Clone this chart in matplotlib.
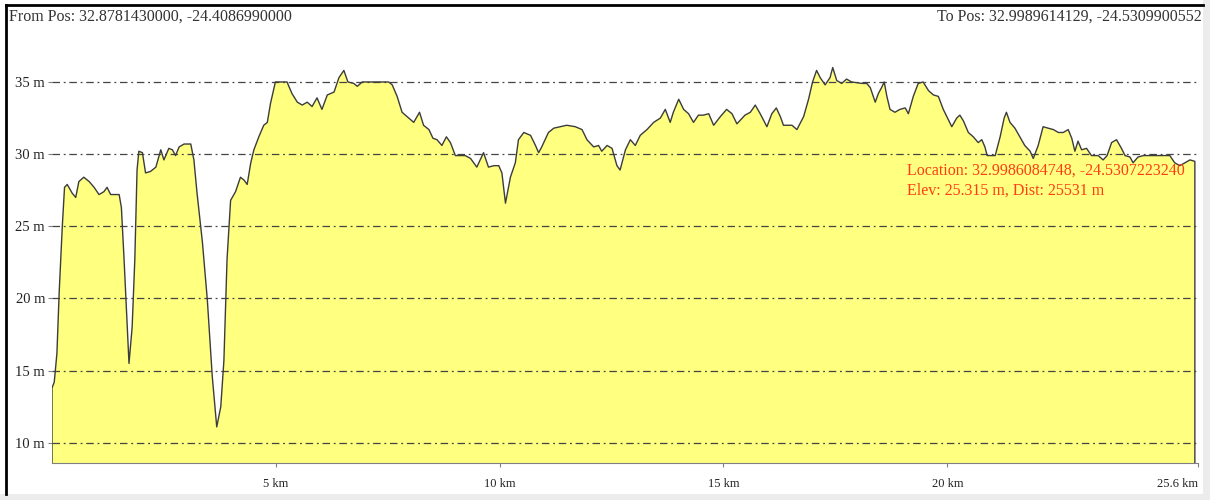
import matplotlib.pyplot as plt
from matplotlib.patches import Rectangle

# elevation profile along the path (distance in km, elevation in m)
dist_km = [
    0.00, 0.05, 0.11, 0.16, 0.23, 0.28, 0.34, 0.45, 0.53, 0.60, 0.71, 0.83, 0.94,
    1.05, 1.16, 1.23, 1.31, 1.50, 1.55, 1.61, 1.72, 1.79, 1.85, 1.90, 1.94, 2.02,
    2.09, 2.20, 2.32, 2.43, 2.50, 2.61, 2.69, 2.76, 2.84, 2.95, 3.10, 3.17, 3.24,
    3.36, 3.47, 3.58, 3.68, 3.77, 3.84, 3.91, 3.99, 4.10, 4.21, 4.29, 4.36, 4.44,
    4.51, 4.62, 4.73, 4.81, 4.88, 4.99,
    5.25, 5.36, 5.48, 5.59, 5.70, 5.81, 5.92, 6.03, 6.15, 6.30, 6.41, 6.52, 6.61,
    6.74, 6.82, 6.93, 7.52, 7.60, 7.71, 7.82, 7.93, 8.08, 8.21, 8.30, 8.42, 8.51,
    8.60, 8.71, 8.81, 8.90, 9.01, 9.23, 9.35, 9.49, 9.64, 9.75, 9.87, 9.98, 10.05,
    10.13,
    10.24, 10.35, 10.42, 10.54, 10.69, 10.80, 10.87, 10.94, 11.09, 11.21, 11.36,
    11.50, 11.69, 11.84, 11.95, 12.10, 12.21, 12.28, 12.40, 12.51, 12.62, 12.69,
    12.81, 12.92, 13.03, 13.14, 13.29, 13.44, 13.59, 13.70, 13.81, 13.88, 14.00,
    14.11, 14.22, 14.33, 14.44, 14.55, 14.67, 14.78, 14.93, 15.07, 15.19, 15.30,
    15.48, 15.60, 15.71, 15.82, 15.97, 16.08, 16.18, 16.27, 16.34, 16.53, 16.64,
    16.79, 16.90, 16.99, 17.08, 17.16, 17.27, 17.38, 17.44, 17.53, 17.64, 17.75,
    17.86, 18.09, 18.20, 18.28, 18.39, 18.46, 18.53, 18.59, 18.65, 18.72, 18.83,
    18.94, 19.06, 19.13, 19.24, 19.35, 19.46, 19.58, 19.69, 19.80, 19.91, 20.02,
    20.10, 20.21, 20.28, 20.36,
    20.47, 20.58, 20.69, 20.77, 20.84, 20.89, 21.07, 21.18, 21.27, 21.32, 21.40,
    21.51, 21.62, 21.73, 21.85, 21.92, 22.03, 22.14, 22.25, 22.37, 22.48, 22.59,
    22.70, 22.78, 22.85, 22.92, 23.00, 23.11, 23.22, 23.37, 23.48, 23.57, 23.67,
    23.78, 23.89, 23.97, 24.08, 24.15, 24.26, 24.38, 24.97, 25.08, 25.19, 25.31,
    25.42, 25.53,
]
elev_m = [
    13.8, 14.2, 16.2, 20.4, 25.0, 27.7, 27.9, 27.3, 27.0, 28.1, 28.4, 28.1, 27.7,
    27.2, 27.4, 27.7, 27.2, 27.2, 26.3, 22.7, 15.5, 18.0, 22.7, 28.9, 30.2, 30.1,
    28.7, 28.8, 29.1, 30.3, 29.6, 30.4, 30.3, 29.9, 30.5, 30.7, 30.7, 29.6, 27.3,
    23.9, 19.9, 14.6, 11.1, 12.5, 15.7, 22.7, 26.8, 27.4, 28.4, 28.2, 27.9, 29.4,
    30.3, 31.2, 32.0, 32.2, 33.5, 35.0,
    35.0, 34.2, 33.6, 33.4, 33.6, 33.3, 33.9, 33.1, 34.1, 34.3, 35.3, 35.8, 35.0,
    34.9, 34.7, 35.0, 35.0, 34.8, 34.0, 32.9, 32.6, 32.2, 32.9, 32.0, 31.7, 31.1,
    31.0, 30.6, 31.2, 30.8, 29.9, 29.9, 29.7, 29.1, 30.1, 29.1, 29.2, 29.2, 28.7,
    26.6,
    28.4, 29.4, 31.0, 31.5, 31.3, 30.6, 30.1, 30.5, 31.5, 31.8, 31.9,
    32.0, 31.9, 31.7, 31.0, 30.5, 30.6, 30.2, 30.6, 30.4, 29.2, 28.9,
    30.3, 31.0, 30.6, 31.3, 31.7, 32.2, 32.5, 33.1, 32.2, 32.9, 33.8,
    33.1, 32.8, 32.2, 32.7, 32.7, 32.8, 32.0, 32.6, 33.1, 32.8, 32.1,
    32.7, 32.9, 33.4, 32.8, 31.9, 32.8, 33.2, 32.6, 32.0, 32.0, 31.7,
    32.6, 33.8, 35.0, 35.8, 35.3, 34.8, 35.3, 36.0, 35.1, 34.9, 35.2,
    35.0, 34.9, 34.9, 34.6, 33.6, 34.2, 34.6, 35.0, 34.0, 33.1, 32.9,
    33.1, 33.2, 32.8, 34.0, 34.9, 35.0, 34.4, 34.1, 34.0, 33.1, 32.4,
    31.9, 32.5, 32.7, 32.3,
    31.5, 31.2, 30.8, 31.0, 30.5, 29.9, 29.9, 31.2, 32.5, 32.9, 32.2,
    31.8, 31.2, 30.6, 30.2, 29.7, 30.6, 31.9, 31.8, 31.7, 31.5, 31.5,
    31.7, 31.1, 30.2, 30.9, 30.3, 30.4, 29.9, 29.9, 29.6, 29.9, 30.8,
    31.0, 30.4, 29.9, 29.8, 29.4, 29.8, 29.9, 29.9, 29.4, 29.2, 29.4,
    29.6, 29.5,
]

y_ticks = [10, 15, 20, 25, 30, 35]
y_labels = ['10 m', '15 m', '20 m', '25 m', '30 m', '35 m']
x_ticks = [5, 10, 15, 20, 25.6]
x_labels = ['5 km', '10 km', '15 km', '20 km', '25.6 km']

from_pos = 'From Pos: 32.8781430000, -24.4086990000'
to_pos = 'To Pos: 32.9989614129, -24.5309900552'
cursor_loc = 'Location: 32.9986084748, -24.5307223240'
cursor_info = 'Elev: 25.315 m, Dist: 25531 m'

plt.rcParams['font.family'] = ['Liberation Serif', 'DejaVu Serif']

W, H = 1210, 500
fig = plt.figure(figsize=(W / 100, H / 100), dpi=100)
fig.patch.set_facecolor('white')

# window frame: light strip on the right and bottom, dark edge top/left
fig.patches.append(Rectangle((1203 / W, 0), 7 / W, 1, transform=fig.transFigure,
                             facecolor='#ececec', edgecolor='none'))
fig.patches.append(Rectangle((0, 0), 1, 6 / H, transform=fig.transFigure,
                             facecolor='#ececec', edgecolor='none'))
fig.add_artist(plt.Line2D([6 / W, 6 / W], [6 / H, 1 - 5 / H], transform=fig.transFigure,
                          color='black', lw=2))
fig.add_artist(plt.Line2D([6 / W, 1203 / W], [1 - 5 / H, 1 - 5 / H], transform=fig.transFigure,
                          color='black', lw=2))

ax = fig.add_axes([52 / W, 37 / H, (1198 - 52) / W, (463 - 30) / H])
ymin, ymax = 8.6, 38.6
ax.set_xlim(0, 25.6)
ax.set_ylim(ymin, ymax)

ax.fill_between(dist_km, elev_m, ymin, facecolor='#ffff80', edgecolor='none', zorder=1)
ax.plot([dist_km[0]] + dist_km + [dist_km[-1]], [ymin] + elev_m + [ymin],
        color='#3c3c3c', lw=1.0, zorder=3)

for y in y_ticks:
    ax.axhline(y, color='#444444', lw=0.9, ls=(0, (6, 3, 1.5, 3)), zorder=2)

for side in ['top', 'right', 'left']:
    ax.spines[side].set_visible(False)
ax.spines['bottom'].set_color('#808080')
ax.set_facecolor('white')

ax.set_yticks(y_ticks)
ax.set_yticklabels(y_labels)
ax.set_xticks(x_ticks)
ax.set_xticklabels(x_labels)
ax.tick_params(axis='y', length=3, color='#808080', labelsize=10.5, labelcolor='#222222', pad=2)
ax.tick_params(axis='x', length=3, color='#808080', labelsize=9, labelcolor='#222222', pad=8)
ax.get_xticklabels()[-1].set_ha('right')

fig.text(9 / W, 1 - 17 / H, from_pos, fontsize=11.5, color='#333333', va='center', ha='left')
fig.text(1202 / W, 1 - 17 / H, to_pos, fontsize=11.5, color='#333333', va='center', ha='right')

# cursor readout near the end of the path
ax.text(19.1, 28.85, cursor_loc, fontsize=11.5, color='#ff3c14',
        va='center', ha='left', zorder=4)
ax.text(19.1, 27.45, cursor_info, fontsize=11.5, color='#ff3c14',
        va='center', ha='left', zorder=4)

fig.savefig('out.png', dpi=100)
